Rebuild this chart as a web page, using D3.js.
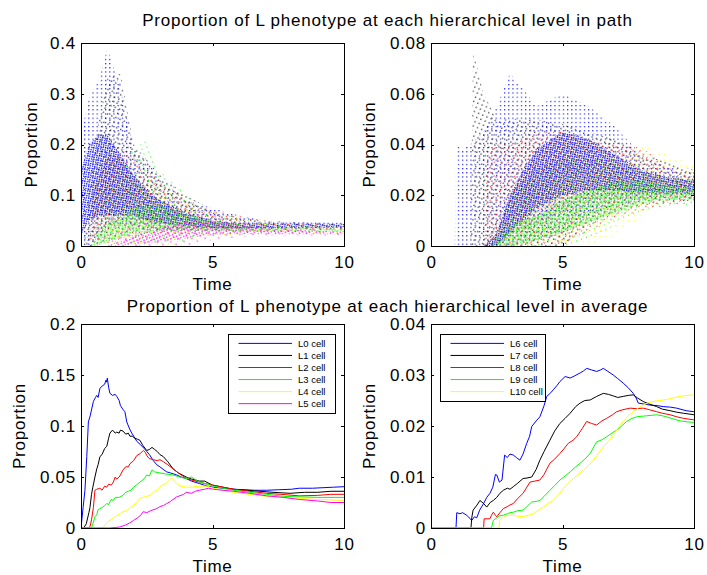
<!DOCTYPE html>
<html>
<head>
<meta charset="utf-8">
<script src="https://cdn.jsdelivr.net/npm/d3@7"></script>
<style>
  body { margin: 0; background: #fff; }
  text { font-family: "Liberation Sans", Arial, Helvetica, sans-serif; }
</style>
</head>
<body>
<script>
// ---------- data ----------
let timeTicks = [0, 5, 10];
let yTicksPathA = [0, 0.1, 0.2, 0.3, 0.4];
let yTicksPathB = [0, 0.02, 0.04, 0.06, 0.08];
let yTicksMeanA = [0, 0.05, 0.1, 0.15, 0.2];
let yTicksMeanB = [0, 0.01, 0.02, 0.03, 0.04];

let levelsA = ['L0 cell', 'L1 cell', 'L2 cell', 'L3 cell', 'L4 cell', 'L5 cell'];
let levelsB = ['L6 cell', 'L7 cell', 'L8 cell', 'L9 cell', 'L10 cell'];
let colorsA = ['#0000ff', '#000000', '#ff0000', '#00ff00', '#ffff00', '#ff00ff'];
let colorsB = ['#0000ff', '#000000', '#ff0000', '#00ff00', '#ffff00'];

let titlePath = 'Proportion of L phenotype at each hierarchical level in path';
let titleMean = 'Proportion of L phenotype at each hierarchical level in average';

// path clouds: [time, low, coreLow, coreHigh, high]
let cloudL0 = [[0,0,0.02,0.15,0.22],[0.3,0,0.05,0.2,0.29],[0.7,0.02,0.06,0.22,0.33],[1,0.04,0.06,0.22,0.39],[1.5,0.04,0.06,0.18,0.31],[2,0.04,0.06,0.14,0.19],[2.5,0.035,0.05,0.11,0.17],[3,0.03,0.045,0.09,0.13],[4,0.03,0.04,0.065,0.09],[5,0.03,0.035,0.05,0.075],[6,0.032,0.035,0.045,0.06],[7,0.034,0.036,0.044,0.05],[8,0.035,0.037,0.044,0.048],[10,0.036,0.037,0.044,0.046]];
let cloudL1 = [[0.1,0,0,0,0],[0.5,0,0.02,0.12,0.2],[1,0.01,0.04,0.18,0.33],[1.5,0.02,0.05,0.17,0.34],[2,0.03,0.05,0.14,0.2],[2.5,0.03,0.05,0.11,0.17],[3,0.03,0.045,0.09,0.14],[4,0.03,0.04,0.065,0.1],[5,0.03,0.035,0.05,0.07],[6,0.03,0.034,0.045,0.055],[7,0.031,0.033,0.04,0.05],[10,0.032,0.034,0.039,0.043]];
let cloudL2 = [[0.3,0,0,0,0],[0.5,0,0.01,0.06,0.12],[1,0.005,0.02,0.1,0.17],[1.5,0.01,0.03,0.11,0.19],[2,0.015,0.04,0.11,0.18],[2.5,0.02,0.04,0.1,0.15],[3,0.02,0.04,0.09,0.13],[4,0.02,0.035,0.065,0.09],[5,0.022,0.032,0.05,0.07],[6,0.024,0.03,0.043,0.06],[7,0.026,0.03,0.038,0.05],[10,0.028,0.031,0.036,0.04]];
let cloudL3 = [[0.4,0,0,0,0],[0.7,0,0.005,0.03,0.07],[1,0,0.01,0.045,0.1],[1.5,0,0.015,0.06,0.14],[2,0,0.02,0.075,0.19],[2.5,0,0.025,0.08,0.21],[3,0.005,0.03,0.08,0.15],[4,0.01,0.03,0.065,0.1],[5,0.02,0.03,0.05,0.07],[6,0.022,0.028,0.042,0.055],[7,0.024,0.028,0.036,0.048],[10,0.026,0.028,0.033,0.038]];
let cloudL4 = [[0.8,0,0,0,0],[1,0,0.002,0.02,0.05],[1.5,0,0.005,0.035,0.07],[2,0,0.01,0.05,0.1],[2.5,0,0.015,0.06,0.12],[3,0,0.02,0.065,0.12],[3.5,0,0.025,0.065,0.11],[4,0.005,0.025,0.06,0.09],[5,0.02,0.028,0.05,0.07],[6,0.022,0.027,0.042,0.055],[7,0.023,0.026,0.035,0.045],[10,0.024,0.026,0.03,0.035]];
let cloudL5 = [[1,0,0,0,0],[1.5,0,0.001,0.01,0.03],[2,0,0.003,0.02,0.05],[3,0,0.008,0.035,0.07],[4,0,0.015,0.05,0.075],[5,0.012,0.022,0.05,0.065],[6,0.017,0.024,0.042,0.05],[7,0.02,0.023,0.034,0.042],[10,0.021,0.023,0.028,0.033]];
let cloudL6 = [[0.9,0,0,0,0],[0.95,0,0,0,0.04],[1.2,0,0,0,0.038],[1.5,0,0,0,0.04],[2,0,0,0,0.045],[2.5,0,0,0.005,0.055],[3,0,0.005,0.02,0.068],[3.5,0,0.01,0.03,0.062],[4,0.002,0.015,0.038,0.055],[5,0.005,0.02,0.045,0.06],[6,0.012,0.022,0.042,0.055],[7,0.016,0.022,0.036,0.047],[8,0.018,0.021,0.03,0.036],[9,0.019,0.021,0.027,0.031],[10,0.019,0.021,0.026,0.029]];
let cloudL7 = [[1.5,0,0,0,0],[1.6,0,0,0,0.077],[2,0,0,0,0.06],[2.5,0,0,0.01,0.05],[3,0,0.004,0.02,0.05],[4,0,0.008,0.03,0.05],[5,0,0.014,0.035,0.048],[6,0.008,0.018,0.035,0.045],[7,0.013,0.019,0.032,0.042],[8,0.016,0.019,0.029,0.036],[10,0.018,0.02,0.025,0.03]];
let cloudL8 = [[2,0,0,0,0],[2.1,0,0,0,0.035],[2.5,0,0,0.005,0.04],[3,0,0.002,0.012,0.04],[4,0,0.005,0.022,0.045],[5,0,0.01,0.028,0.045],[6,0.006,0.014,0.03,0.042],[7,0.011,0.017,0.029,0.04],[8,0.014,0.018,0.028,0.039],[9,0.016,0.018,0.026,0.031],[10,0.017,0.019,0.024,0.027]];
let cloudL9 = [[2.3,0,0,0,0],[3,0,0,0.008,0.02],[4,0,0.002,0.012,0.03],[5,0,0.005,0.018,0.035],[6,0.002,0.009,0.022,0.035],[7,0.008,0.013,0.025,0.035],[8,0.013,0.017,0.026,0.031],[9,0.016,0.018,0.024,0.028],[10,0.016,0.018,0.023,0.026]];
let cloudL10 = [[2.6,0,0,0,0],[3,0,0,0.004,0.01],[4,0,0,0.006,0.018],[5,0,0.002,0.01,0.025],[6,0,0.005,0.016,0.03],[7,0.004,0.012,0.025,0.035],[8,0.012,0.02,0.035,0.04],[9,0.018,0.024,0.033,0.036],[10,0.021,0.025,0.031,0.032]];

// averages: [time, proportion]
let meanL0 = [[0,0],[0.08,0.02],[0.15,0.037],[0.22,0.07],[0.28,0.104],[0.35,0.11],[0.47,0.124],[0.55,0.128],[0.6,0.13],[0.65,0.128],[0.72,0.137],[0.8,0.139],[0.9,0.141],[0.95,0.145],[0.98,0.143],[1,0.147],[1.05,0.138],[1.1,0.132],[1.2,0.13],[1.3,0.131],[1.36,0.129],[1.45,0.125],[1.5,0.12],[1.6,0.116],[1.67,0.114],[1.74,0.104],[1.85,0.097],[1.93,0.093],[2.05,0.088],[2.12,0.085],[2.25,0.082],[2.4,0.078],[2.5,0.075],[2.6,0.072],[2.75,0.066],[2.88,0.062],[3,0.06],[3.15,0.057],[3.26,0.055],[3.4,0.054],[3.64,0.052],[3.8,0.05],[4,0.0485],[4.2,0.046],[4.5,0.0436],[4.8,0.041],[5.03,0.04],[5.4,0.039],[5.8,0.038],[6.2,0.0375],[6.6,0.037],[7.06,0.037],[7.5,0.0375],[8,0.038],[8.3,0.039],[8.8,0.039],[9.2,0.0395],[9.6,0.04],[10,0.0405]];
let meanL1 = [[0,0],[0.1,0],[0.2,0.004],[0.3,0.015],[0.34,0.02],[0.4,0.033],[0.45,0.04],[0.53,0.05],[0.6,0.058],[0.65,0.062],[0.72,0.07],[0.8,0.072],[0.9,0.078],[0.98,0.08],[1.05,0.088],[1.1,0.093],[1.2,0.096],[1.3,0.093],[1.36,0.094],[1.45,0.093],[1.5,0.096],[1.6,0.095],[1.7,0.092],[1.8,0.093],[1.86,0.09],[1.95,0.09],[2.05,0.088],[2.15,0.087],[2.24,0.086],[2.35,0.081],[2.5,0.076],[2.6,0.077],[2.7,0.079],[2.8,0.077],[2.9,0.075],[3,0.072],[3.13,0.07],[3.3,0.065],[3.5,0.058],[3.7,0.054],[4,0.05],[4.2,0.048],[4.5,0.046],[4.7,0.046],[5,0.042],[5.4,0.04],[5.8,0.038],[6.3,0.037],[6.8,0.036],[7.3,0.035],[7.95,0.034],[8.5,0.035],[9,0.035],[9.5,0.036],[10,0.036]];
let meanL2 = [[0,0],[0.3,0],[0.35,0.002],[0.4,0.008],[0.47,0.02],[0.53,0.037],[0.6,0.038],[0.72,0.039],[0.8,0.037],[0.9,0.041],[0.98,0.04],[1.05,0.043],[1.15,0.042],[1.23,0.045],[1.3,0.05],[1.36,0.048],[1.45,0.05],[1.5,0.052],[1.6,0.057],[1.7,0.06],[1.8,0.06],[1.86,0.063],[2,0.066],[2.12,0.071],[2.25,0.073],[2.37,0.076],[2.45,0.074],[2.5,0.071],[2.6,0.068],[2.75,0.067],[2.9,0.066],[3,0.067],[3.13,0.065],[3.3,0.062],[3.5,0.058],[3.7,0.054],[4,0.0485],[4.2,0.047],[4.5,0.045],[4.8,0.043],[5.03,0.042],[5.4,0.04],[5.8,0.038],[6.4,0.036],[7.06,0.034],[7.6,0.033],[8.3,0.0315],[9,0.032],[9.5,0.033],[10,0.033]];
let meanL3 = [[0,0],[0.4,0],[0.45,0.004],[0.53,0.011],[0.6,0.013],[0.65,0.018],[0.72,0.019],[0.8,0.02],[0.9,0.022],[0.98,0.024],[1.05,0.023],[1.15,0.028],[1.23,0.027],[1.3,0.03],[1.45,0.03],[1.6,0.032],[1.7,0.035],[1.8,0.036],[1.9,0.037],[2,0.04],[2.1,0.042],[2.24,0.045],[2.35,0.047],[2.45,0.05],[2.5,0.052],[2.6,0.051],[2.7,0.057],[2.8,0.055],[3,0.054],[3.2,0.053],[3.5,0.052],[3.75,0.05],[4,0.0485],[4.2,0.05],[4.5,0.045],[4.8,0.043],[5.03,0.041],[5.4,0.039],[5.8,0.037],[6.4,0.035],[7.06,0.033],[7.7,0.031],[8.3,0.0305],[9,0.03],[10,0.03]];
let meanL4 = [[0,0],[0.8,0],[0.85,0.001],[0.95,0.004],[1.1,0.0075],[1.25,0.01],[1.35,0.012],[1.48,0.014],[1.6,0.016],[1.75,0.017],[1.86,0.02],[2,0.022],[2.1,0.025],[2.24,0.029],[2.35,0.03],[2.5,0.031],[2.62,0.032],[2.75,0.035],[2.9,0.037],[3,0.04],[3.1,0.042],[3.25,0.044],[3.38,0.0475],[3.45,0.049],[3.55,0.046],[3.64,0.0436],[3.8,0.041],[4,0.04],[4.2,0.04],[4.5,0.041],[4.8,0.041],[5.03,0.039],[5.4,0.037],[5.8,0.035],[6.4,0.033],[7.06,0.031],[7.7,0.03],[8.3,0.029],[9,0.028],[10,0.027]];
let meanL5 = [[0,0],[1.1,0],[1.3,0.0005],[1.48,0.001],[1.7,0.003],[1.85,0.005],[2,0.0075],[2.15,0.01],[2.25,0.012],[2.37,0.016],[2.5,0.015],[2.65,0.017],[2.88,0.019],[3,0.021],[3.13,0.022],[3.26,0.024],[3.4,0.026],[3.5,0.028],[3.64,0.0305],[3.8,0.032],[3.9,0.033],[4,0.035],[4.2,0.034],[4.35,0.036],[4.5,0.037],[4.7,0.038],[4.85,0.039],[5.03,0.038],[5.4,0.037],[5.8,0.036],[6.4,0.034],[7.06,0.0315],[7.7,0.03],[8.3,0.028],[9,0.0265],[9.5,0.025],[10,0.025]];
let meanL6 = [[0,0],[0.95,0],[0.98,0.003],[1.1,0.0028],[1.2,0.003],[1.36,0.0025],[1.45,0.002],[1.55,0.0015],[1.65,0.0022],[1.74,0.002],[1.85,0.0035],[2,0.0048],[2.12,0.006],[2.24,0.0068],[2.35,0.008],[2.45,0.0105],[2.5,0.0104],[2.6,0.009],[2.7,0.0094],[2.8,0.0143],[2.9,0.0138],[3,0.0145],[3.13,0.0143],[3.25,0.0138],[3.38,0.0133],[3.5,0.0145],[3.64,0.0166],[3.75,0.018],[3.83,0.0199],[4,0.021],[4.14,0.0218],[4.3,0.024],[4.4,0.0258],[4.55,0.0265],[4.65,0.0271],[4.8,0.028],[4.9,0.0287],[5.1,0.0297],[5.29,0.0294],[5.45,0.0298],[5.67,0.0304],[5.8,0.0308],[5.92,0.0313],[6.1,0.031],[6.3,0.0307],[6.45,0.031],[6.55,0.0313],[6.7,0.0308],[6.93,0.03],[7.1,0.0293],[7.31,0.0284],[7.5,0.0275],[7.69,0.0264],[7.8,0.0255],[7.88,0.0245],[8.1,0.0243],[8.33,0.0241],[8.6,0.024],[8.83,0.0238],[9.1,0.0237],[9.34,0.0235],[9.7,0.023],[10,0.0228]];
let meanL7 = [[0,0],[1.52,0],[1.55,0.002],[1.6,0.0035],[1.75,0.0045],[1.86,0.0054],[2,0.0048],[2.12,0.0041],[2.25,0.005],[2.37,0.0054],[2.5,0.006],[2.62,0.0068],[2.75,0.0074],[2.9,0.0078],[3,0.0076],[3.13,0.0081],[3.3,0.0088],[3.5,0.0097],[3.65,0.0098],[3.83,0.01],[4,0.0115],[4.14,0.0133],[4.3,0.015],[4.52,0.0172],[4.7,0.019],[4.9,0.0205],[5.1,0.0215],[5.29,0.0225],[5.5,0.0238],[5.67,0.0245],[5.85,0.025],[6.05,0.0251],[6.3,0.0258],[6.55,0.0264],[6.75,0.0262],[6.93,0.0259],[7.1,0.0256],[7.31,0.0258],[7.5,0.026],[7.69,0.0261],[7.85,0.0255],[8.07,0.0248],[8.3,0.0243],[8.58,0.0238],[8.8,0.0233],[9.09,0.023],[9.35,0.0227],[9.6,0.0225],[10,0.0222]];
let meanL8 = [[0,0],[2,0],[2.02,0.0018],[2.24,0.0018],[2.3,0.0025],[2.37,0.0031],[2.45,0.0025],[2.5,0.0022],[2.62,0.003],[2.75,0.0038],[2.9,0.0042],[3,0.0045],[3.13,0.0048],[3.3,0.0058],[3.5,0.0068],[3.62,0.0078],[3.76,0.009],[3.95,0.0092],[4.14,0.0094],[4.3,0.0105],[4.52,0.0127],[4.7,0.0135],[4.9,0.0146],[5.05,0.0155],[5.22,0.0166],[5.4,0.0172],[5.54,0.0179],[5.75,0.0195],[5.92,0.0209],[6.1,0.0205],[6.3,0.0202],[6.5,0.021],[6.68,0.0215],[6.9,0.0222],[7.06,0.0228],[7.3,0.0232],[7.57,0.0235],[7.8,0.0234],[8.07,0.0235],[8.3,0.0232],[8.58,0.0228],[8.8,0.0225],[9.09,0.0222],[9.35,0.0218],[9.6,0.0215],[10,0.0212]];
let meanL9 = [[0,0],[2.3,0],[2.37,0.0015],[2.5,0.002],[2.62,0.0024],[2.75,0.0025],[2.9,0.0028],[3,0.003],[3.13,0.0031],[3.3,0.0034],[3.5,0.0035],[3.65,0.0042],[3.83,0.0051],[4,0.0052],[4.14,0.0054],[4.3,0.0062],[4.52,0.0074],[4.7,0.0083],[4.9,0.0094],[5.1,0.0102],[5.29,0.011],[5.5,0.012],[5.67,0.0127],[5.85,0.0135],[6.05,0.0146],[6.2,0.016],[6.3,0.0169],[6.5,0.0173],[6.68,0.0179],[6.85,0.0185],[7.06,0.0192],[7.25,0.02],[7.44,0.0209],[7.6,0.0214],[7.82,0.0218],[8,0.0219],[8.2,0.022],[8.4,0.0221],[8.58,0.0222],[8.8,0.022],[8.96,0.0218],[9.2,0.0214],[9.47,0.021],[9.75,0.0208],[10,0.0207]];
let meanL10 = [[0,0],[2.58,0],[2.62,0.0015],[2.75,0.0022],[2.9,0.0025],[3.13,0.0025],[3.3,0.0023],[3.5,0.0022],[3.7,0.0025],[3.89,0.0028],[4.05,0.0034],[4.27,0.0041],[4.45,0.0048],[4.65,0.0054],[4.85,0.0065],[5.03,0.0077],[5.2,0.0087],[5.41,0.0097],[5.6,0.0105],[5.79,0.0113],[6,0.0123],[6.17,0.0133],[6.35,0.0145],[6.55,0.0159],[6.75,0.017],[6.93,0.0182],[7.1,0.0195],[7.31,0.0209],[7.5,0.022],[7.69,0.0228],[7.9,0.0236],[8.07,0.0241],[8.25,0.0245],[8.45,0.0248],[8.7,0.025],[8.96,0.0252],[9.2,0.0255],[9.47,0.0258],[9.75,0.026],[10,0.0261]];

// ---------- page ----------
let W = 707, H = 575;
let svg = d3.select('body').append('svg')
  .attr('width', W)
  .attr('height', H);
svg.append('rect').attr('width', W).attr('height', H).attr('fill', '#fff');
let defs = svg.append('defs');

let bigFont = 17;

// panel boxes (pixels)
let colX = [[81, 344], [431, 694]];
let rowY = [[43, 246], [324, 528]];

// dot patterns stand in for the dotted path clouds
function dotPattern(id, color, tile, angle, off, size) {
  let p = defs.append('pattern')
    .attr('id', id)
    .attr('patternUnits', 'userSpaceOnUse')
    .attr('width', tile)
    .attr('height', tile)
    .attr('patternTransform', 'rotate(' + angle + ')');
  p.append('rect')
    .attr('x', off % tile)
    .attr('y', (off * 1.7) % tile)
    .attr('width', size)
    .attr('height', size)
    .attr('fill', color)
    .attr('opacity', 0.9);
}

function drawPanel(cfg) {
  let x = d3.scaleLinear().domain([0, 10]).range(colX[cfg.col]);
  let y = d3.scaleLinear().domain([0, cfg.yTicks[cfg.yTicks.length - 1]]).range([rowY[cfg.row][1], rowY[cfg.row][0]]);
  let g = svg.append('g');
  let clipId = 'clip' + cfg.row + cfg.col;
  defs.append('clipPath').attr('id', clipId)
    .append('rect')
    .attr('x', x.range()[0]).attr('y', y.range()[1])
    .attr('width', x.range()[1] - x.range()[0])
    .attr('height', y.range()[0] - y.range()[1]);
  let plot = g.append('g').attr('clip-path', 'url(#' + clipId + ')');

  if (cfg.clouds) {
    let outer = d3.area().x(d => x(d[0])).y0(d => y(d[1])).y1(d => y(d[4]));
    let core = d3.area().x(d => x(d[0])).y0(d => y(d[2])).y1(d => y(d[3]));
    cfg.clouds.forEach((c, i) => {
      let base = 'p' + cfg.col + '_' + i;
      dotPattern(base + 's', cfg.colors[i], 4.2 + i * 0.35, i * 23, i * 1.9, 1.2);
      dotPattern(base + 'd', cfg.colors[i], 2.3 + i * 0.17, 11 + i * 29, i * 1.3, 1.3);
      plot.append('path').datum(c).attr('d', outer).attr('fill', 'url(#' + base + 's)');
      plot.append('path').datum(c).attr('d', core).attr('fill', 'url(#' + base + 'd)');
    });
  }

  if (cfg.means) {
    let line = d3.line().x(d => x(d[0])).y(d => y(d[1]));
    cfg.means.forEach((m, i) => {
      plot.append('path').datum(m)
        .attr('d', line)
        .attr('fill', 'none')
        .attr('stroke', cfg.colors[i])
        .attr('stroke-width', 1);
    });
  }

  // MATLAB style box: inward ticks on all four sides
  let bottom = d3.axisBottom(x).tickValues(timeTicks).tickSizeInner(-3).tickSizeOuter(0).tickPadding(10);
  let top = d3.axisTop(x).tickValues(timeTicks).tickSizeInner(-3).tickSizeOuter(0).tickFormat('');
  let left = d3.axisLeft(y).tickValues(cfg.yTicks).tickSizeInner(-3).tickSizeOuter(0).tickPadding(5).tickFormat(d => String(d));
  let right = d3.axisRight(y).tickValues(cfg.yTicks).tickSizeInner(-3).tickSizeOuter(0).tickFormat('');

  let axes = [
    [bottom, 'translate(0,' + y.range()[0] + ')'],
    [top, 'translate(0,' + y.range()[1] + ')'],
    [left, 'translate(' + x.range()[0] + ',0)'],
    [right, 'translate(' + x.range()[1] + ',0)']
  ];
  axes.forEach(a => {
    let ax = g.append('g').attr('transform', a[1]).call(a[0]);
    ax.selectAll('path, line').attr('stroke', '#000').attr('stroke-width', 1).attr('shape-rendering', 'crispEdges');
    ax.selectAll('text')
      .attr('font-size', bigFont)
      .attr('letter-spacing', '0.75px')
      .attr('fill', '#000')
      .style('font-family', '"Liberation Sans", Arial, sans-serif');
  });

  // axis labels
  g.append('text')
    .attr('x', (x.range()[0] + x.range()[1]) / 2)
    .attr('y', y.range()[0] + 44)
    .attr('text-anchor', 'middle')
    .attr('font-size', bigFont)
    .attr('letter-spacing', '0.75px')
    .text('Time');
  g.append('text')
    .attr('transform', 'translate(' + (x.range()[0] - cfg.labelGap) + ',' + ((y.range()[0] + y.range()[1]) / 2) + ') rotate(-90)')
    .attr('text-anchor', 'middle')
    .attr('font-size', bigFont)
    .attr('letter-spacing', '0.75px')
    .text('Proportion');

  // legend
  if (cfg.legend) {
    let L = cfg.legend;
    let lg = g.append('g').attr('transform', 'translate(' + L.x + ',' + L.y + ')');
    lg.append('rect')
      .attr('width', L.w).attr('height', L.h)
      .attr('fill', '#fff').attr('stroke', '#000').attr('stroke-width', 1)
      .attr('shape-rendering', 'crispEdges');
    cfg.names.forEach((n, i) => {
      let ry = 9.4 + i * 12.05;
      lg.append('line')
        .attr('x1', 10.5).attr('x2', 64)
        .attr('y1', ry).attr('y2', ry)
        .attr('stroke', cfg.colors[i]).attr('stroke-width', 1);
      lg.append('text')
        .attr('x', 70).attr('y', ry)
        .attr('dy', '0.35em')
        .attr('font-size', 9.5)
        .text(n);
    });
  }
}

// titles
svg.append('text')
  .attr('x', 387.5).attr('y', 25.7)
  .attr('text-anchor', 'middle')
  .attr('font-size', bigFont)
  .attr('letter-spacing', '0.8px')
  .text(titlePath);
svg.append('text')
  .attr('x', 387.5).attr('y', 311.7)
  .attr('text-anchor', 'middle')
  .attr('font-size', bigFont)
  .attr('letter-spacing', '0.8px')
  .text(titleMean);

drawPanel({ row: 0, col: 0, yTicks: yTicksPathA, labelGap: 44.5, colors: colorsA,
  clouds: [cloudL0, cloudL1, cloudL2, cloudL3, cloudL4, cloudL5] });
drawPanel({ row: 0, col: 1, yTicks: yTicksPathB, labelGap: 56, colors: colorsB,
  clouds: [cloudL6, cloudL7, cloudL8, cloudL9, cloudL10] });
drawPanel({ row: 1, col: 0, yTicks: yTicksMeanA, labelGap: 56, colors: colorsA, names: levelsA,
  means: [meanL0, meanL1, meanL2, meanL3, meanL4, meanL5],
  legend: { x: 228, y: 334, w: 107, h: 79 } });
drawPanel({ row: 1, col: 1, yTicks: yTicksMeanB, labelGap: 56, colors: colorsB, names: levelsB,
  means: [meanL6, meanL7, meanL8, meanL9, meanL10],
  legend: { x: 440, y: 334, w: 105, h: 67 } });
</script>
</body>
</html>
